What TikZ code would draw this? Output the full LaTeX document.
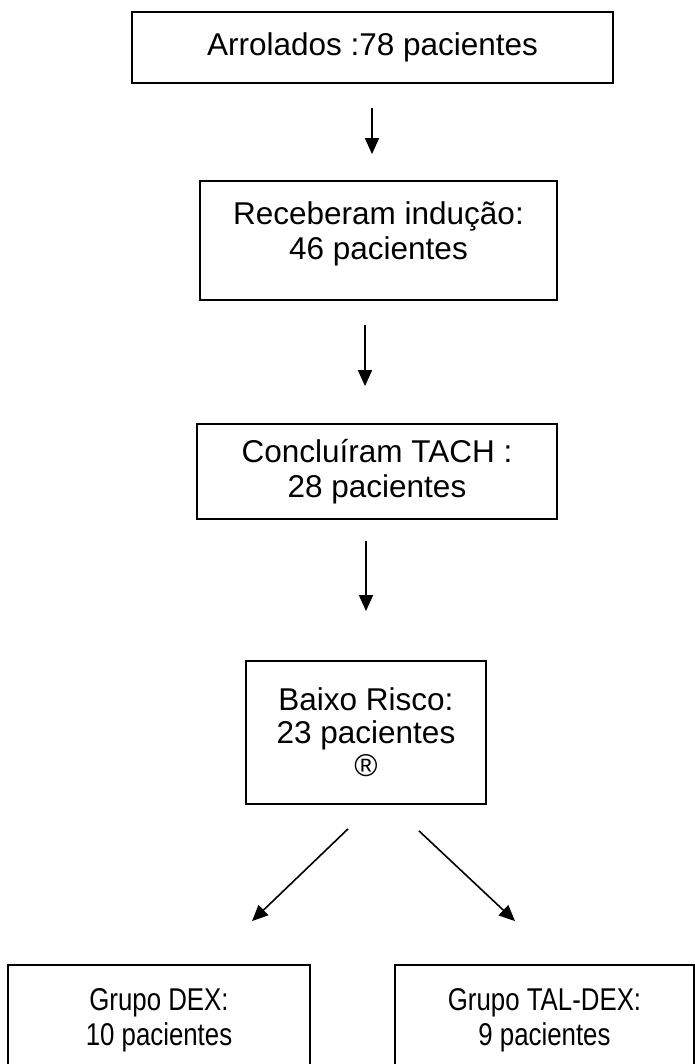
\documentclass[tikz,border=0pt]{standalone}
\usepackage{fontspec}
\usepackage{graphicx}
\setmainfont{Liberation Sans}
\usetikzlibrary{arrows.meta,calc}
\tikzset{
  box/.style={draw, line width=1.8pt, inner sep=0pt, align=center,
    font=\fontsize{31.5}{35}\selectfont},
  arr/.style={line width=1.6pt, -{Triangle[length=16pt,width=14pt]}}
}
\newcommand{\narrow}[1]{\scalebox{0.82}[1]{#1}}
\begin{document}
\begin{tikzpicture}[x=1pt,y=-1pt]
\useasboundingbox (0,0) rectangle (695,1064);
\begin{scope}
\clip (0,0) rectangle (695,1064);
\node[box, minimum width=481pt, minimum height=71pt] (b1) at (372.5,47.5) {Arrolados :78 pacientes};
\node[box, minimum width=357pt, minimum height=119pt,
  label={[name=t2, align=center, font=\fontsize{31.5}{35}\selectfont, yshift=7pt]center:Receberam indução:\\46 pacientes}] (b2) at (378.5,240.5) {};
\node[box, minimum width=360pt, minimum height=95pt] (b3) at (377,471.5) {Concluíram TACH :\\28 pacientes};
\node[box, minimum width=240pt, minimum height=143pt, font=\fontsize{31.5}{33}\selectfont] (b4) at (366,732.5) {Baixo Risco:\\23 pacientes\\®};
\node[box, minimum width=302pt, minimum height=110pt] (b5) at (159,1020) {\narrow{Grupo DEX:}\\\narrow{10 pacientes}};
\node[box, minimum width=299pt, minimum height=110pt] (b6) at (544.5,1020) {\narrow{Grupo TAL-DEX:}\\\narrow{9 pacientes}};
\end{scope}
\draw[arr] ($(b1.south)+(-0.5,24)$) -- ($(b2.north)+(-6.5,-26)$);
\draw[arr] ($(b2.south)+(-13.5,24)$) -- ($(b3.north)+(-12,-37)$);
\draw[arr] ($(b3.south)+(-11,21)$) -- ($(b4.north)+(0,-49)$);
\draw[arr] ($(b4.south)+(-18,24)$) -- ($(b5.north)+(93,-43)$);
\draw[arr] ($(b4.south)+(53,26)$) -- ($(b6.north)+(-29.5,-43)$);
\end{tikzpicture}
\end{document}
